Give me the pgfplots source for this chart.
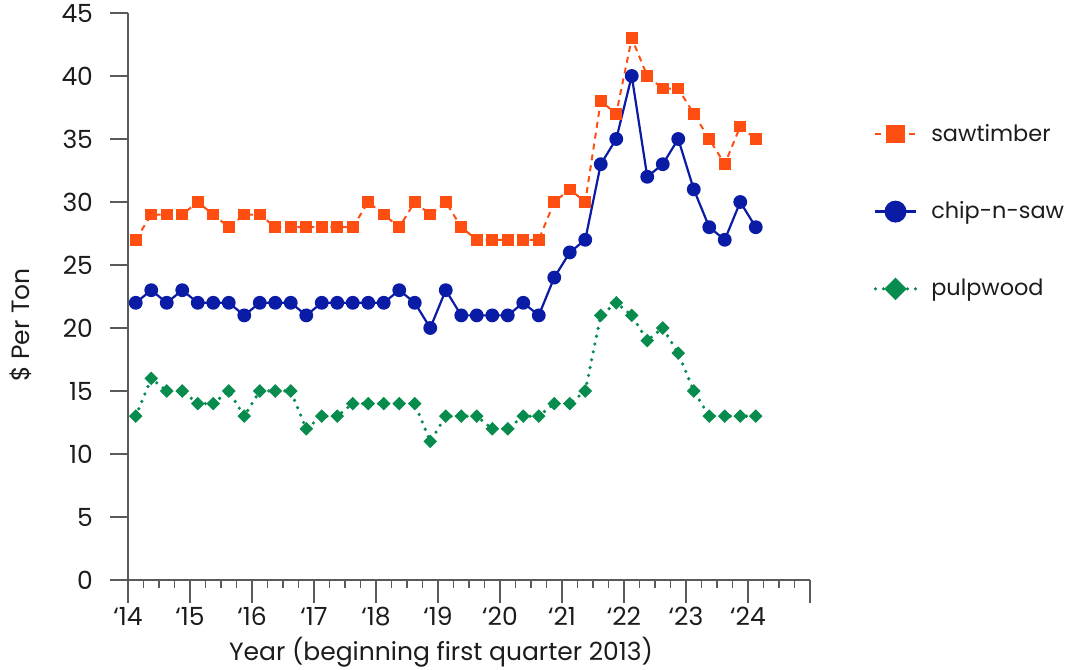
\documentclass[border=0pt]{standalone}
\usepackage{pgfplots}
\pgfplotsset{compat=1.18}
\usepackage{pgfplotstable}
\usepackage{fontspec}
\setmainfont{Poppins}

\definecolor{sawcol}{HTML}{FF4E11}
\definecolor{chipcol}{HTML}{0A1BA6}
\definecolor{pulpcol}{HTML}{078C4E}
\definecolor{axcol}{HTML}{5A5A5A}
\definecolor{txtcol}{HTML}{1C1C1C}

% quarterly prices, x = quarter index (midpoint of each quarter)
\pgfplotstableread{
x    saw  chip pulp
0.5  27   22   13
1.5  29   23   16
2.5  29   22   15
3.5  29   23   15
4.5  30   22   14
5.5  29   22   14
6.5  28   22   15
7.5  29   21   13
8.5  29   22   15
9.5  28   22   15
10.5 28   22   15
11.5 28   21   12
12.5 28   22   13
13.5 28   22   13
14.5 28   22   14
15.5 30   22   14
16.5 29   22   14
17.5 28   23   14
18.5 30   22   14
19.5 29   20   11
20.5 30   23   13
21.5 28   21   13
22.5 27   21   13
23.5 27   21   12
24.5 27   21   12
25.5 27   22   13
26.5 27   21   13
27.5 30   24   14
28.5 31   26   14
29.5 30   27   15
30.5 38   33   21
31.5 37   35   22
32.5 43   40   21
33.5 40   32   19
34.5 39   33   20
35.5 39   35   18
36.5 37   31   15
37.5 35   28   13
38.5 33   27   13
39.5 36   30   13
40.5 35   28   13
}\prices

\begin{document}
\begin{tikzpicture}[font=\fontsize{12.5}{15}\selectfont, text=txtcol]
\begin{axis}[
    scale only axis,
    width=341pt, height=283.5pt,
    xmin=0, xmax=44, ymin=0, ymax=45,
    axis lines*=left,
    axis line style={axcol, line width=0.7pt},
    tick align=outside,
    tick style={axcol, line width=0.7pt},
    major tick length=9pt,
    minor tick length=4pt,
    xtick={0,4,...,44},
    xticklabels={‘14,‘15,‘16,‘17,‘18,‘19,‘20,‘21,‘22,‘23,‘24,},
    minor xtick={1,2,3,5,6,7,9,10,11,13,14,15,17,18,19,21,22,23,25,26,27,29,30,31,33,34,35,37,38,39,41,42,43},
    xtick style={/pgfplots/major tick length=11.5pt},
    ytick={0,5,...,45},
    yticklabel style={anchor=east, xshift=-5pt},
    xticklabel style={anchor=north, yshift=-1pt},
    /pgf/number format/assume math mode=true,
    clip=false,
    legend style={
        at={(rel axis cs:1.084,0.819)}, anchor=north west,
        draw=none, fill=none,
        row sep=24.75pt,
        cells={anchor=west},
        nodes={inner sep=2pt},
        font=\fontsize{11.2}{13}\selectfont,
        /tikz/every odd column/.append style={column sep=5pt},
    },
    legend image code/.code={
        \draw[mark repeat=2, mark phase=2, #1, every mark/.append style={scale=1.7}]
            plot coordinates {(0pt,0pt) (10pt,0pt) (20pt,0pt)};
    },
]
\addplot[sawcol, line width=1pt, dash pattern=on 3pt off 2.5pt,
    mark=square*, mark size=2.4pt, mark options={solid, fill=sawcol, draw=sawcol}]
    table[x=x, y=saw] {\prices};
\addlegendentry{sawtimber}
\addplot[chipcol, line width=1.1pt,
    mark=*, mark size=2.9pt, mark options={solid, fill=chipcol, draw=chipcol}]
    table[x=x, y=chip] {\prices};
\addlegendentry{chip-n-saw}
\addplot[pulpcol, line width=1.8pt, line cap=round, dash pattern=on 0pt off 4pt,
    mark=square*, mark size=2.2pt, mark options={solid, rotate=45, fill=pulpcol, draw=pulpcol, line width=0.4pt}]
    table[x=x, y=pulp] {\prices};
\addlegendentry{pulpwood}

\node[anchor=center] at (rel axis cs:0.459,-0.127) {Year (beginning first quarter 2013)};
\node[anchor=center, rotate=90] at (rel axis cs:-0.158,0.4497) {\$ Per Ton};
\coordinate (bl) at (rel axis cs:-0.1877,-0.157);
\coordinate (tr) at (rel axis cs:1.3739,1.0229);
\end{axis}
\pgfresetboundingbox
\path[use as bounding box] (bl) rectangle (tr);
\end{tikzpicture}
\end{document}
